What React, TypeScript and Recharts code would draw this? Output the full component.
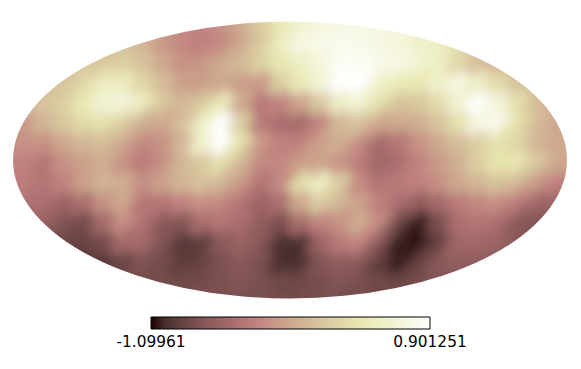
import React from 'react';
import { ScatterChart, Scatter, ComposedChart, Line, XAxis, YAxis, ReferenceArea } from 'recharts';

const W = 581;
const H = 369;
const VMIN = -1.09961;
const VMAX = 0.901251;
const colourBarTicks = [VMIN, VMAX];

const colourStops: [number, string][] = [
  [0, '#1e0000'], [0.05, '#4a2f2f'], [0.1, '#603e3e'], [0.2, '#8a5959'], [0.3, '#ab6e6e'],
  [0.37, '#c07f7f'], [0.45, '#c99a88'], [0.55, '#d2b696'], [0.65, '#dccfa3'], [0.75, '#e8e8b0'],
  [0.9, '#f5f5dc'], [1, '#ffffff'],
];

// Map level in percent of the colour bar, one list per row; columns run left to right.
const row1 = [50,50,50,55,55,55,55,50,45,40,38,42,50,62,75,85,90,92,92,92,90,85,80,70,60,55,50,50,50,50];
const row2 = [55,55,55,55,58,60,60,55,45,40,37,40,50,63,80,92,94,95,94,92,90,85,82,72,62,55,50,50,50,50];
const row3 = [60,60,60,60,62,62,65,60,50,43,44,50,56,66,75,82,90,97,97,94,92,88,82,68,58,55,52,50,50,50];
const row4 = [60,60,60,60,68,80,80,68,58,47,46,50,46,44,65,77,88,100,100,85,78,75,85,92,82,70,60,55,55,55];
const row5 = [60,60,60,65,76,88,90,80,62,55,62,78,50,34,38,48,62,82,88,72,60,62,70,87,100,90,72,58,50,50];
const row6 = [45,45,55,62,70,72,65,52,50,58,82,100,65,34,30,28,38,55,60,50,50,52,60,72,92,95,72,58,50,50];
const row7 = [42,42,42,50,55,58,50,40,42,55,85,100,72,45,37,38,47,52,42,28,33,42,50,58,65,72,68,55,50,50];
const row8 = [38,38,33,42,47,52,42,35,42,55,62,72,55,40,40,46,48,43,36,26,30,38,45,52,65,74,74,62,50,50];
const row9 = [36,36,33,38,47,55,52,42,48,55,60,55,45,32,40,70,82,64,40,33,35,37,42,50,55,60,55,45,37,37];
const row10 = [32,32,30,25,30,42,50,33,33,38,42,40,33,25,30,50,64,55,48,37,30,22,28,35,40,42,35,26,26,26];
const row11 = [25,25,25,18,14,28,42,32,20,18,30,33,30,22,16,30,38,42,52,40,14,2,16,30,33,30,20,18,18,18];
const row12 = [15,15,15,13,12,15,28,28,18,8,9,20,25,20,6,5,25,35,38,20,3,2,12,27,27,25,20,20,20,20];
const row13 = [10,10,10,10,8,8,12,18,15,10,12,17,20,17,5,6,18,22,20,10,3,12,20,22,22,22,22,22,22,22];
const row14 = [14,14,14,14,14,14,15,15,15,14,15,17,18,17,14,14,16,18,16,14,13,16,18,18,18,18,18,18,18,18];
const row15 = [15,15,15,15,15,15,15,15,15,15,16,16,16,16,15,15,16,16,16,15,15,16,16,16,16,16,16,16,16,16];
const rows = [row1,row2,row3,row4,row5,row6,row7,row8,row9,row10,row11,row12,row13,row14,row15];

const hex = (s: string, i: number) => parseInt(s.slice(1 + 2 * i, 3 + 2 * i), 16);
function colourAt(t: number): string {
  for (let i = 1; i < colourStops.length; i++) {
    const [t1, c1] = colourStops[i];
    const [t0, c0] = colourStops[i - 1];
    if (t <= t1) {
      const f = (t - t0) / (t1 - t0);
      const ch = [0, 1, 2].map((k) => Math.round(hex(c0, k) + (hex(c1, k) - hex(c0, k)) * f));
      return `rgb(${ch.join(',')})`;
    }
  }
  return '#ffffff';
}

const cells = rows.flatMap((r, ri) => r.map((pct, ci) => ({ col: ci, row: ri + 1, pct })));
const barData = colourBarTicks.map((v) => ({ v, y: 0.5 }));

const Cell = (p: any) => {
  const r = 21;
  return (
    <path
      d={`M${p.cx} ${p.cy - r}L${p.cx + r} ${p.cy}L${p.cx} ${p.cy + r}L${p.cx - r} ${p.cy}Z`}
      fill={colourAt(p.payload.pct / 100)}
    />
  );
};

export default function App() {
  return (
    <div style={{ position: 'absolute', left: 0, top: 0, width: W, height: H, background: '#fff' }}>
      <style>{`.map-cells { filter: url(#mapBlur); clip-path: url(#mapClip); }`}</style>
      <svg width={0} height={0} style={{ position: 'absolute' }}>
        <defs>
          <filter id="mapBlur" filterUnits="userSpaceOnUse" x={-60} y={-60} width={W + 120} height={H + 120}>
            <feGaussianBlur stdDeviation={6} />
          </filter>
          <clipPath id="mapClip" clipPathUnits="userSpaceOnUse">
            <ellipse cx={290} cy={160} rx={277} ry={138.5} />
          </clipPath>
          <linearGradient id="barGrad" x1="0" y1="0" x2="1" y2="0">
            {colourStops.map(([t, c]) => (
              <stop key={t} offset={t} stopColor={c} />
            ))}
          </linearGradient>
        </defs>
      </svg>
      <div style={{ position: 'absolute', left: 0, top: 0 }}>
        <ScatterChart width={W} height={H} margin={{ top: 0, right: 0, bottom: 0, left: 0 }}>
          <XAxis type="number" dataKey="col" domain={[-0.45, W / 20 - 0.45]} hide />
          <YAxis type="number" dataKey="row" domain={[-0.45, H / 20 - 0.45]} reversed hide />
          <Scatter data={cells} className="map-cells" shape={Cell} isAnimationActive={false} />
        </ScatterChart>
      </div>
      <div style={{ position: 'absolute', left: 0, top: 0 }}>
        <ComposedChart width={W} height={H} data={barData} margin={{ top: 317, right: 151, bottom: 0, left: 151 }}>
          <XAxis
            type="number"
            dataKey="v"
            domain={[VMIN, VMAX]}
            ticks={colourBarTicks}
            interval={0}
            height={40}
            axisLine={false}
            tickLine={false}
            tickMargin={1}
            tick={{ fontSize: 15.4, fontFamily: 'DejaVu Sans', fill: '#000' }}
          />
          <YAxis type="number" domain={[0, 1]} hide />
          <Line dataKey="y" stroke="none" dot={false} isAnimationActive={false} />
          <ReferenceArea x1={VMIN} x2={VMAX} y1={0} y2={1} fill="url(#barGrad)" fillOpacity={1} stroke="#000" strokeWidth={1} />
        </ComposedChart>
      </div>
    </div>
  );
}
